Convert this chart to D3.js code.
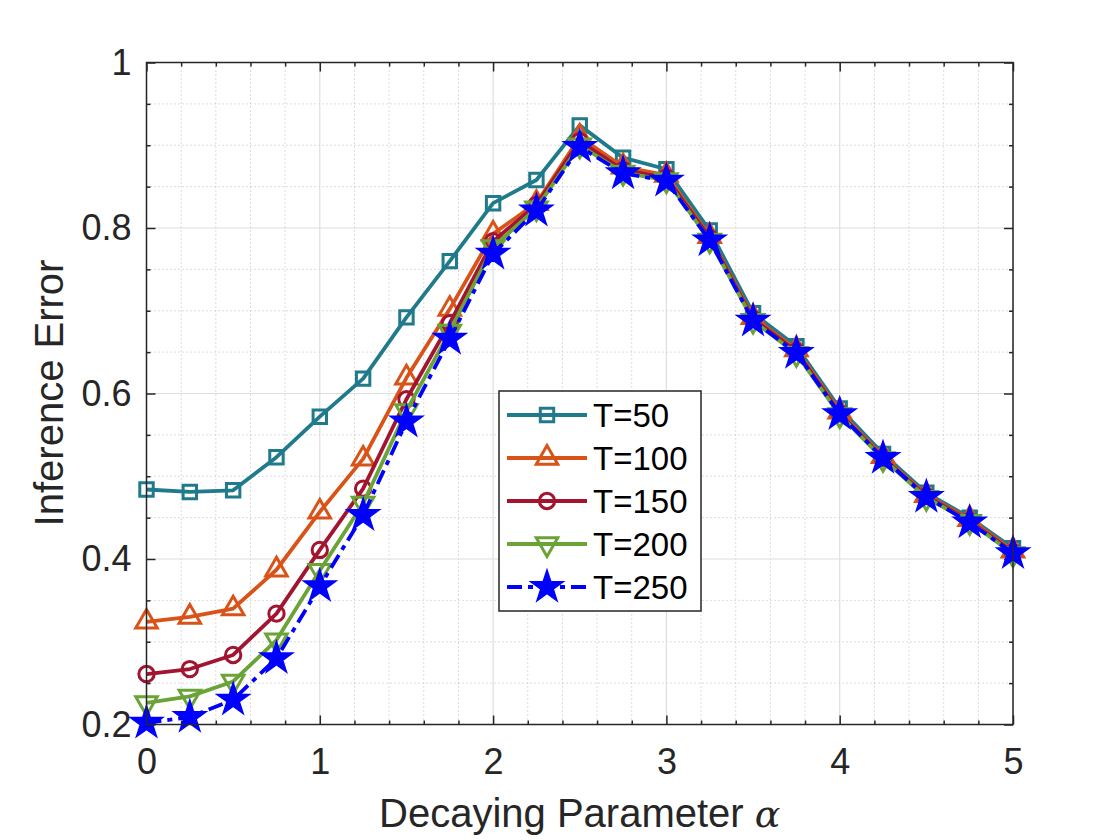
<!DOCTYPE html>
<html>
<head>
<meta charset="utf-8">
<script src="https://cdn.jsdelivr.net/npm/d3@7"></script>
<style>
html,body{margin:0;padding:0;background:#fff;}
svg{display:block;}
</style>
</head>
<body>
<svg id="chart" width="1120" height="840"></svg>
<script>
const alphas = [0,0.25,0.5,0.75,1,1.25,1.5,1.75,2,2.25,2.5,2.75,3,3.25,3.5,3.75,4,4.25,4.5,4.75,5];
const seriesNames = ["T=50","T=100","T=150","T=200","T=250"];
const t50  = [0.484,0.481,0.483,0.523,0.572,0.618,0.692,0.760,0.830,0.858,0.924,0.885,0.871,0.797,0.697,0.657,0.582,0.527,0.480,0.450,0.413];
const t100 = [0.324,0.330,0.340,0.387,0.457,0.521,0.619,0.702,0.793,0.830,0.910,0.874,0.864,0.790,0.692,0.653,0.578,0.524,0.477,0.448,0.410];
const t150 = [0.261,0.267,0.284,0.334,0.411,0.485,0.593,0.685,0.784,0.828,0.905,0.870,0.861,0.788,0.690,0.651,0.576,0.522,0.476,0.446,0.408];
const t200 = [0.226,0.234,0.252,0.302,0.386,0.467,0.579,0.675,0.777,0.824,0.900,0.867,0.858,0.785,0.688,0.648,0.574,0.521,0.474,0.445,0.406];
const t250 = [0.202,0.209,0.230,0.280,0.367,0.453,0.566,0.666,0.769,0.821,0.898,0.866,0.857,0.785,0.688,0.649,0.575,0.522,0.475,0.444,0.407];
const xTicks = [0,1,2,3,4,5];
const yTicks = [0.2,0.4,0.6,0.8,1];
const xTickLabels = ["0","1","2","3","4","5"];
const yTickLabels = ["0.2","0.4","0.6","0.8","1"];
const xMinor = [0.2,0.4,0.6,0.8,1.2,1.4,1.6,1.8,2.2,2.4,2.6,2.8,3.2,3.4,3.6,3.8,4.2,4.4,4.6,4.8];
const yMinor = [0.25,0.3,0.35,0.45,0.5,0.55,0.65,0.7,0.75,0.85,0.9,0.95];

const allValues = [t50,t100,t150,t200,t250];
const colors = ["#1f7a8c","#d95319","#a2142f","#6aa336","#0000ff"];
const symbols = [d3.symbolSquare, d3.symbolTriangle, d3.symbolCircle, d3.symbolTriangle, d3.symbolStar];
const symSizes = [180, 200, 185, 200, 240];
const symRot = [0,0,0,180,0];
const dashes = [null,null,null,null,"15,6,5,6"];

const svg = d3.select("#chart");
const L = 146.5, R = 1013, T = 62.5, B = 724.5;
const x = d3.scaleLinear().domain([0,5]).range([L,R]);
const y = d3.scaleLinear().domain([0.2,1]).range([B,T]);
const font = "'Liberation Sans', Arial, Helvetica, sans-serif";

// minor grid
const g = svg.append("g");
g.selectAll(".mx").data(xMinor).enter().append("line")
  .attr("x1",d=>x(d)).attr("x2",d=>x(d)).attr("y1",T).attr("y2",B)
  .attr("stroke","#b8b8b8").attr("stroke-width",1).attr("stroke-dasharray","1,3");
g.selectAll(".my").data(yMinor).enter().append("line")
  .attr("y1",d=>y(d)).attr("y2",d=>y(d)).attr("x1",L).attr("x2",R)
  .attr("stroke","#b8b8b8").attr("stroke-width",1).attr("stroke-dasharray","1,3");
// major grid
g.selectAll(".gx").data(xTicks).enter().append("line")
  .attr("x1",d=>x(d)).attr("x2",d=>x(d)).attr("y1",T).attr("y2",B)
  .attr("stroke","#dedede").attr("stroke-width",1.2);
g.selectAll(".gy").data(yTicks).enter().append("line")
  .attr("y1",d=>y(d)).attr("y2",d=>y(d)).attr("x1",L).attr("x2",R)
  .attr("stroke","#dedede").attr("stroke-width",1.2);

// axes with inward ticks
const axCol = "#262626";
function addAxis(axis, tr){
  const a = svg.append("g").attr("transform",tr).call(axis);
  a.select(".domain").remove();
  a.selectAll(".tick line").attr("stroke",axCol).attr("stroke-width",1.5);
  a.selectAll(".tick text").attr("fill",axCol).style("font-family",font).style("font-size","36px");
  return a;
}
addAxis(d3.axisBottom(x).tickValues(xTicks).tickSize(-9).tickPadding(24).tickFormat((d,i)=>xTickLabels[i]), `translate(0,${B})`);
addAxis(d3.axisBottom(x).tickValues(xMinor).tickSize(-4).tickFormat(""), `translate(0,${B})`);
addAxis(d3.axisTop(x).tickValues(xTicks).tickSize(-9).tickFormat(""), `translate(0,${T})`);
addAxis(d3.axisTop(x).tickValues(xMinor).tickSize(-4).tickFormat(""), `translate(0,${T})`);
addAxis(d3.axisLeft(y).tickValues(yTicks).tickSize(-9).tickPadding(15).tickFormat((d,i)=>yTickLabels[i]), `translate(${L},0)`);
addAxis(d3.axisLeft(y).tickValues(yMinor).tickSize(-4).tickFormat(""), `translate(${L},0)`);
addAxis(d3.axisRight(y).tickValues(yTicks).tickSize(-9).tickFormat(""), `translate(${R},0)`);
addAxis(d3.axisRight(y).tickValues(yMinor).tickSize(-4).tickFormat(""), `translate(${R},0)`);

// series
const line = d3.line().x((d,i)=>x(alphas[i])).y(d=>y(d));
allValues.forEach((vals,k)=>{
  const sg = svg.append("g");
  sg.append("path").datum(vals).attr("d",line).attr("fill","none")
    .attr("stroke",colors[k]).attr("stroke-width",3.8)
    .attr("stroke-linejoin","round")
    .attr("stroke-dasharray",dashes[k]);
  const sym = d3.symbol().type(symbols[k]).size(symSizes[k]);
  sg.selectAll("path.m").data(vals).enter().append("path").attr("class","m")
    .attr("d",sym)
    .attr("transform",(d,i)=>`translate(${x(alphas[i])},${y(d)}) rotate(${symRot[k]})`)
    .attr("fill",k===4?colors[k]:"none")
    .attr("stroke",colors[k]).attr("stroke-width",3);
});

// box
svg.append("rect").attr("x",L).attr("y",T).attr("width",R-L).attr("height",B-T)
  .attr("fill","none").attr("stroke",axCol).attr("stroke-width",1.5);

// axis labels
const xlab = svg.append("text").attr("x",(L+R)/2).attr("y",827).attr("text-anchor","middle")
  .attr("fill",axCol).style("font-family",font).style("font-size","40px");
xlab.append("tspan").text("Decaying Parameter ");
xlab.append("tspan").text("α").style("font-family","'DejaVu Serif', serif").style("font-style","italic").style("font-size","38px");

svg.append("text").attr("transform","translate(63,393) rotate(-90)").attr("text-anchor","middle")
  .attr("fill",axCol).style("font-family",font).style("font-size","40px").text("Inference Error");

// legend
const lg = svg.append("g");
lg.append("rect").attr("x",499).attr("y",391).attr("width",202).attr("height",220)
  .attr("fill","#fff").attr("stroke",axCol).attr("stroke-width",1.5);
seriesNames.forEach((name,k)=>{
  const cy = 415 + k*43;
  lg.append("line").attr("x1",507).attr("x2",587).attr("y1",cy).attr("y2",cy)
    .attr("stroke",colors[k]).attr("stroke-width",3.8).attr("stroke-dasharray",dashes[k]);
  lg.append("path").attr("d",d3.symbol().type(symbols[k]).size(symSizes[k]))
    .attr("transform",`translate(547,${cy}) rotate(${symRot[k]})`)
    .attr("fill",k===4?colors[k]:"none").attr("stroke",colors[k]).attr("stroke-width",3);
  lg.append("text").attr("x",593).attr("y",cy+12).attr("fill","#000")
    .style("font-family",font).style("font-size","33px").text(name);
});
</script>
</body>
</html>
